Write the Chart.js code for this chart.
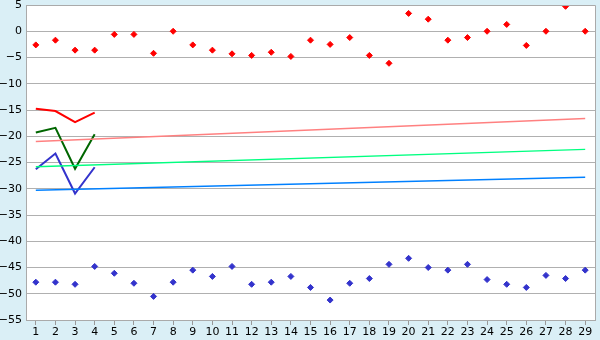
<!DOCTYPE html>
<html>
<head>
<meta charset="utf-8">
<script src="https://cdn.jsdelivr.net/npm/chart.js@4"></script>
<style>
  html, body { margin: 0; padding: 0; background: #daeff6; }
  #wrap { width: 600px; height: 340px; }
</style>
</head>
<body>
<div id="wrap"><canvas id="chart" width="600" height="340"></canvas></div>
<script>
// Data
const categories = ['1','2','3','4','5','6','7','8','9','10','11','12','13','14','15',
  '16','17','18','19','20','21','22','23','24','25','26','27','28','29'];

const redPoints = [-2.6, -1.7, -3.6, -3.6, -0.6, -0.6, -4.2, 0, -2.6, -3.6,
  -4.3, -4.6, -4.0, -4.8, -1.7, -2.5, -1.2, -4.6, -6.1, 3.4,
  2.3, -1.7, -1.2, 0, 1.3, -2.7, 0, 4.75, 0];

const bluePoints = [-47.8, -47.8, -48.2, -44.8, -46.1, -48.0, -50.5, -47.8, -45.5, -46.7,
  -44.8, -48.2, -47.8, -46.7, -48.8, -51.2, -48.0, -47.1, -44.4, -43.25,
  -45.0, -45.5, -44.4, -47.3, -48.2, -48.8, -46.5, -47.1, -45.5];

// short lines over the first four categories
const redLine = [-14.75, -15.2, -17.3, -15.5];
const greenLine = [-19.3, -18.4, -26.2, -19.6];
const blueLine = [-26.3, -23.3, -30.9, -25.9];

// trend lines: value at first and last category
const redTrend = [-21.0, -16.6];
const greenTrend = [-25.8, -22.5];
const blueTrend = [-30.3, -27.8];

const yTicks = { min: -55, max: 5, step: 5 };

function trendData(ends) {
    return [
        { x: categories[0], y: ends[0] },
        { x: categories[categories.length - 1], y: ends[1] }
    ];
}

// Background + plot frame
const framePlugin = {
    id: 'frame',
    beforeDraw(chart) {
        const ctx = chart.ctx;
        const a = chart.chartArea;
        ctx.save();
        ctx.fillStyle = '#daeff6';
        ctx.fillRect(0, 0, chart.width, chart.height);
        ctx.fillStyle = '#ffffff';
        ctx.fillRect(a.left, a.top, a.right - a.left, a.bottom - a.top);
        ctx.restore();
    },
    afterDraw(chart) {
        const ctx = chart.ctx;
        const a = chart.chartArea;
        ctx.save();
        ctx.strokeStyle = '#aaaaaa';
        ctx.lineWidth = 1;
        ctx.beginPath();
        ctx.moveTo(a.left + 0.5, a.top + 0.5);
        ctx.lineTo(a.right + 0.5, a.top + 0.5);
        ctx.lineTo(a.right + 0.5, a.bottom + 0.5);
        ctx.stroke();
        ctx.restore();
    }
};

const ctx = document.getElementById('chart').getContext('2d');
new Chart(ctx, {
    type: 'line',
    data: {
        labels: categories,
        datasets: [
            {
                label: 'Red trend',
                data: trendData(redTrend),
                borderColor: '#ff8080',
                borderWidth: 1.5,
                pointRadius: 0
            },
            {
                label: 'Green trend',
                data: trendData(greenTrend),
                borderColor: '#00ff80',
                borderWidth: 1.5,
                pointRadius: 0
            },
            {
                label: 'Blue trend',
                data: trendData(blueTrend),
                borderColor: '#0080ff',
                borderWidth: 1.5,
                pointRadius: 0
            },
            {
                label: 'Red line',
                data: redLine,
                borderColor: '#ff0000',
                borderWidth: 2,
                pointRadius: 0
            },
            {
                label: 'Green line',
                data: greenLine,
                borderColor: '#006600',
                borderWidth: 2,
                pointRadius: 0
            },
            {
                label: 'Blue line',
                data: blueLine,
                borderColor: '#3333cc',
                borderWidth: 2,
                pointRadius: 0
            },
            {
                label: 'Red points',
                data: redPoints,
                showLine: false,
                pointStyle: 'rectRot',
                pointRadius: 3,
                pointBackgroundColor: '#ff0000',
                pointBorderColor: '#ff0000',
                pointBorderWidth: 1
            },
            {
                label: 'Blue points',
                data: bluePoints,
                showLine: false,
                pointStyle: 'rectRot',
                pointRadius: 3,
                pointBackgroundColor: '#3333cc',
                pointBorderColor: '#3333cc',
                pointBorderWidth: 1
            }
        ]
    },
    options: {
        responsive: false,
        animation: false,
        layout: { padding: { top: 5, right: 5, left: 0, bottom: 0 } },
        plugins: {
            legend: { display: false },
            tooltip: { enabled: false }
        },
        scales: {
            x: {
                offset: true,
                grid: {
                    offset: false,
                    drawOnChartArea: false,
                    drawTicks: true,
                    tickLength: 5,
                    color: '#999999'
                },
                border: { color: '#aaaaaa' },
                ticks: {
                    color: '#000000',
                    padding: 1,
                    maxRotation: 0,
                    autoSkip: false,
                    font: { family: 'DejaVu Sans', size: 11 }
                },
                afterFit(scale) { scale.height = 20; }
            },
            y: {
                min: yTicks.min,
                max: yTicks.max,
                grid: {
                    color: '#b0b0b0',
                    drawTicks: false
                },
                border: { color: '#aaaaaa' },
                ticks: {
                    stepSize: yTicks.step,
                    color: '#000000',
                    padding: 4,
                    font: { family: 'DejaVu Sans', size: 11 },
                    callback: v => String(v).replace('-', '\u2212')
                },
                afterFit(scale) {
                    scale.width = 26;
                    scale.paddingTop = 0;
                    scale.paddingBottom = 0;
                }
            }
        }
    },
    plugins: [framePlugin]
});
</script>
</body>
</html>
